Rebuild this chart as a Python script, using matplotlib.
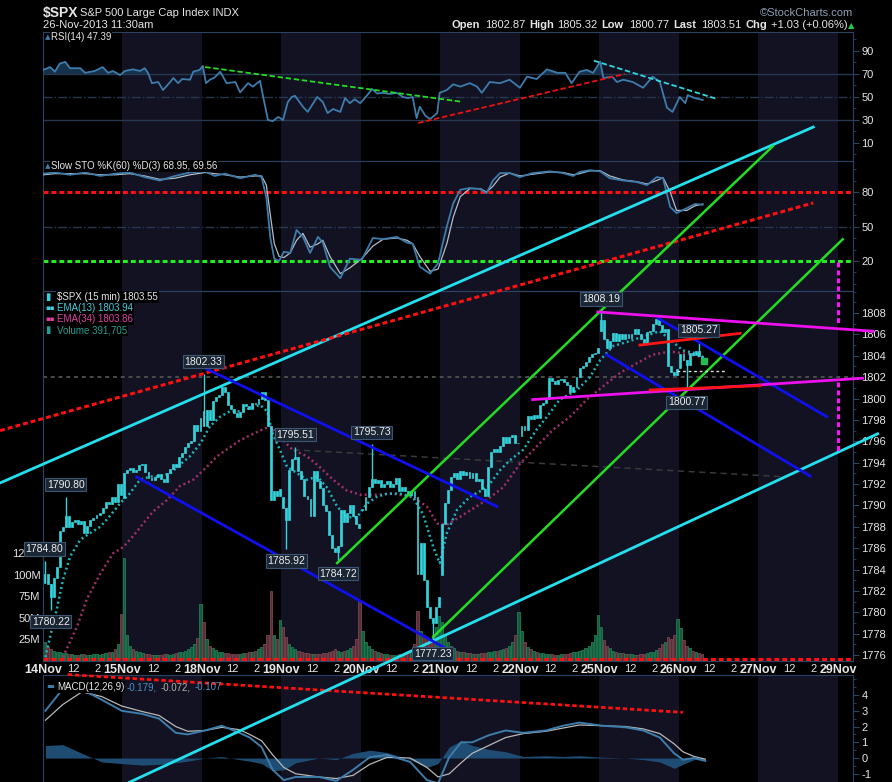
"""
Recria o grafico StockCharts do $SPX (15 min) com RSI, Slow STO e MACD.
Gera out.png (892x782).
"""
import matplotlib
matplotlib.use('Agg')
import matplotlib.pyplot as plt
import numpy as np

W_PX, H_PX = 892, 782
X0_PX, X1_PX = 43, 853

BG = '#000000'
BAND = '#121222'
EDGE = '#2d4263'
GRID = '#263850'
TXT = '#e6e6e6'
CYAN = '#35d4dc'
STEEL = '#3d7cab'
FONT = ['Liberation Sans', 'DejaVu Sans']
NARROW = ['Liberation Sans Narrow', 'Liberation Sans', 'DejaVu Sans']

# ---- eixo x: uma unidade = um pregao (26 barras de 15 min) ----
day_labels = ['14Nov', '15Nov', '18Nov', '19Nov', '20Nov', '21Nov',
              '22Nov', '25Nov', '26Nov', '27Nov', '29Nov']
shaded_days = [1, 3, 5, 7, 9]
bars_per_day = 26
x_max = 10.19

# ---- $SPX 15 min: abertura do dia e fechamentos de cada barra ----
day_open = [1782.75, 1790.66, 1798.82, 1790.79, 1789.59, 1783.52, 1796.5, 1806.33, 1802.87]
close_14 = [1783.6, 1782.6, 1781.4, 1783.2, 1784.2, 1787.6, 1788.0, 1789.0, 1788.0, 1788.4,
            1788.6, 1788.3, 1788.5, 1787.4, 1788.1, 1788.6, 1788.8, 1789.1, 1789.3, 1789.8,
            1790.3, 1790.1, 1790.8, 1790.3, 1792.0, 1791.0]
close_15 = [1793.0, 1793.3, 1793.5, 1793.1, 1793.3, 1793.8, 1793.9, 1793.1, 1792.6, 1792.4,
            1792.7, 1792.9, 1792.5, 1792.2, 1793.0, 1793.4, 1793.9, 1793.6, 1794.5, 1794.9,
            1795.5, 1795.8, 1796.0, 1797.5, 1797.0, 1798.2]
close_18 = [1797.4, 1798.9, 1798.0, 1799.8, 1800.1, 1800.3, 1801.1, 1800.6, 1799.4, 1799.0,
            1798.6, 1798.3, 1798.7, 1799.5, 1799.3, 1799.0, 1799.6, 1799.5, 1800.0, 1800.6,
            1799.9, 1797.4, 1790.5, 1791.3, 1790.9, 1791.5]
close_19 = [1789.8, 1788.6, 1793.3, 1794.3, 1794.5, 1793.2, 1792.5, 1790.9, 1790.6, 1789.0,
            1793.2, 1792.3, 1791.6, 1790.0, 1789.5, 1787.2, 1786.0, 1785.6, 1786.2, 1789.6,
            1788.4, 1789.3, 1790.0, 1789.0, 1788.3, 1787.9]
close_20 = [1789.6, 1790.8, 1791.7, 1792.5, 1792.1, 1792.4, 1791.7, 1792.0, 1792.3, 1791.7,
            1792.0, 1792.6, 1791.3, 1791.7, 1791.3, 1791.0, 1791.3, 1790.8, 1783.6, 1786.5,
            1783.0, 1780.5, 1779.5, 1779.0, 1780.5, 1781.4]
close_21 = [1788.3, 1790.2, 1791.4, 1792.7, 1793.0, 1792.5, 1793.2, 1792.8, 1793.1, 1792.6,
            1793.0, 1792.3, 1792.5, 1791.5, 1790.9, 1793.6, 1795.0, 1795.3, 1795.0, 1795.6,
            1796.4, 1795.8, 1796.4, 1796.6, 1795.8, 1795.85]
close_22 = [1797.4, 1797.1, 1798.4, 1798.1, 1798.5, 1798.2, 1799.4, 1799.6, 1800.0, 1801.9,
            1801.6, 1801.4, 1801.7, 1801.8, 1801.5, 1801.3, 1800.6, 1801.1, 1802.0, 1802.9,
            1803.0, 1803.4, 1803.9, 1804.2, 1804.3, 1804.76]
close_25 = [1807.3, 1805.6, 1804.7, 1805.4, 1806.1, 1805.4, 1806.0, 1805.6, 1806.0, 1805.7,
            1806.0, 1806.5, 1806.0, 1805.6, 1805.2, 1806.2, 1806.3, 1807.0, 1807.4, 1806.9,
            1806.2, 1806.5, 1803.0, 1802.5, 1802.2, 1802.75]
close_26 = [1804.2, 1803.6, 1803.1, 1804.3, 1804.1, 1804.4, 1804.0, 1803.51]
closes = (close_14 + close_15 + close_18 + close_19 + close_20 + close_21
          + close_22 + close_25 + close_26)

# volume (milhoes) por barra
vol_14 = [22, 16, 14, 12, 11, 10, 9, 9, 8, 8, 7, 7, 8, 8, 7, 7, 8, 8, 7, 8, 9, 10, 11, 14, 20, 55]
vol_15 = [120, 30, 18, 14, 12, 10, 9, 8, 8, 7, 7, 7, 7, 8, 8, 7, 8, 9, 10, 11, 12, 14, 16, 20, 27, 66]
vol_18 = [45, 25, 18, 15, 13, 11, 10, 9, 9, 8, 8, 8, 8, 9, 9, 10, 10, 12, 14, 16, 20, 30, 81, 30, 25, 48]
vol_19 = [40, 28, 20, 16, 14, 12, 10, 9, 9, 8, 8, 8, 8, 9, 9, 10, 12, 14, 12, 11, 12, 13, 15, 18, 25, 70]
vol_20 = [35, 22, 18, 14, 12, 10, 9, 8, 8, 7, 7, 7, 8, 8, 8, 9, 10, 20, 58, 35, 30, 28, 25, 30, 40, 52]
vol_21 = [45, 30, 22, 18, 15, 12, 11, 10, 9, 9, 8, 8, 8, 9, 9, 10, 11, 12, 12, 13, 14, 15, 18, 22, 30, 57]
vol_22 = [35, 22, 16, 14, 12, 10, 9, 9, 8, 8, 8, 7, 7, 8, 8, 8, 9, 10, 11, 12, 13, 15, 18, 22, 30, 53]
vol_25 = [40, 24, 18, 15, 12, 10, 9, 9, 8, 8, 8, 7, 7, 8, 8, 9, 10, 11, 13, 15, 20, 22, 28, 25, 30, 49]
vol_26 = [38, 24, 18, 15, 12, 10, 9, 8]
volume = vol_14 + vol_15 + vol_18 + vol_19 + vol_20 + vol_21 + vol_22 + vol_25 + vol_26

# maximas/minimas anotadas (indice da barra, valor)
wick_bar = [0, 2, 7, 52, 79, 82, 96, 107, 127, 182, 210, 214]
wick_val = [1784.80, 1780.22, 1790.80, 1802.33, 1785.92, 1795.51, 1784.72,
            1795.73, 1777.23, 1808.19, 1800.77, 1805.27]

# medias moveis (pregao, preco)
ema13_t = [0.03, 0.09, 0.18, 0.25, 0.34, 0.47, 0.59, 0.72, 0.84, 0.97, 1.09, 1.22, 1.35, 1.47,
           1.60, 1.72, 1.85, 1.98, 2.10, 2.23, 2.35, 2.48, 2.60, 2.73, 2.82, 2.89, 2.98, 3.07,
           3.20, 3.32, 3.45, 3.57, 3.70, 3.82, 3.95, 4.08, 4.20, 4.33, 4.49, 4.65, 4.78, 4.91,
           4.99, 5.08, 5.21, 5.37, 5.59, 5.75, 5.87, 6.04, 6.21, 6.34, 6.50, 6.72, 6.88, 7.01,
           7.17, 7.35, 7.55, 7.76, 7.89, 8.05, 8.23, 8.30]
ema13_v = [1775.8, 1777.7, 1780.5, 1783.0, 1785.2, 1786.8, 1787.4, 1788.0, 1789.0, 1790.2,
           1791.1, 1792.4, 1792.7, 1792.7, 1793.0, 1793.8, 1794.6, 1795.8, 1797.4, 1798.3,
           1798.8, 1798.8, 1799.1, 1799.4, 1798.8, 1796.7, 1795.2, 1793.6, 1793.0, 1792.4,
           1792.7, 1791.7, 1789.9, 1788.9, 1788.9, 1790.2, 1790.8, 1791.1, 1791.1, 1790.8,
           1789.2, 1786.1, 1784.6, 1787.4, 1789.6, 1790.8, 1791.7, 1793.3, 1794.2, 1795.2,
           1797.1, 1798.3, 1799.9, 1800.8, 1802.0, 1803.6, 1804.9, 1805.3, 1805.8, 1806.3,
           1805.5, 1804.5, 1804.2, 1803.94]
ema34_t = [0.25, 0.43, 0.55, 0.72, 0.88, 1.01, 1.13, 1.26, 1.38, 1.56, 1.72, 1.89, 2.06, 2.19,
           2.48, 2.73, 2.86, 3.02, 3.14, 3.32, 3.48, 3.65, 3.82, 3.99, 4.20, 4.40, 4.65, 4.83,
           4.96, 5.08, 5.24, 5.41, 5.58, 5.79, 6.00, 6.21, 6.42, 6.63, 6.84, 7.04, 7.26, 7.47,
           7.67, 7.89, 8.10, 8.30]
ema34_v = [1775.8, 1778.7, 1781.2, 1783.6, 1785.5, 1786.1, 1787.1, 1788.3, 1789.4, 1790.5,
           1791.8, 1792.4, 1793.6, 1794.6, 1796.1, 1797.0, 1797.4, 1796.1, 1795.2, 1794.6,
           1793.6, 1792.4, 1791.4, 1791.0, 1791.0, 1791.1, 1790.8, 1789.9, 1788.3, 1788.2,
           1788.9, 1789.7, 1790.5, 1791.7, 1793.9, 1795.5, 1797.1, 1798.3, 1799.9, 1801.1,
           1802.4, 1803.3, 1804.1, 1804.4, 1804.2, 1803.86]

# RSI(14)
rsi_t = [0.00, 0.09, 0.15, 0.21, 0.28, 0.34, 0.47, 0.53, 0.65, 0.75, 0.82, 0.88, 0.97, 1.03,
         1.13, 1.22, 1.28, 1.32, 1.37, 1.45, 1.51, 1.60, 1.64, 1.70, 1.75, 1.85, 1.89, 1.97,
         2.01, 2.05, 2.10, 2.16, 2.23, 2.31, 2.42, 2.48, 2.58, 2.64, 2.73, 2.77, 2.83, 2.89,
         2.96, 3.02, 3.08, 3.13, 3.17, 3.27, 3.33, 3.45, 3.52, 3.58, 3.65, 3.74, 3.80, 3.86,
         3.92, 3.99, 4.08, 4.14, 4.20, 4.28, 4.36, 4.45, 4.53, 4.59, 4.65, 4.70, 4.74, 4.81,
         4.87, 4.96, 4.99, 5.08, 5.16, 5.25, 5.37, 5.46, 5.52, 5.62, 5.75, 5.87, 6.00, 6.09,
         6.21, 6.34, 6.47, 6.57, 6.65, 6.75, 6.84, 6.92, 7.01, 7.05, 7.16, 7.22, 7.30, 7.42,
         7.55, 7.67, 7.76, 7.85, 7.92, 8.01, 8.08, 8.11, 8.20, 8.30]
rsi_v = [73.5, 76, 72, 79, 80.5, 75, 75, 71, 72.6, 76, 71, 72.6, 69, 72.6, 74, 72.6, 75, 71,
         62, 63, 56, 63, 66.5, 62, 65.6, 65, 72, 73.5, 77, 62, 65, 67, 72, 62, 63, 54, 62, 59,
         64, 50, 30, 29, 32.6, 30, 45.6, 50, 51, 41.5, 37, 50, 45.6, 36, 39.5, 37, 49, 44.6,
         48, 44.6, 51.6, 57, 53, 53.6, 52.6, 53.6, 50, 49, 50, 31.6, 41.5, 33.7, 30.8, 36,
         53.6, 56, 61, 59, 62, 59, 53.6, 63, 62, 65, 58, 67.7, 65.6, 74, 71, 71, 62, 72, 73.5,
         71, 80.7, 66.5, 67.7, 63, 65, 63, 58, 67.7, 63, 40.6, 37, 50, 44.6, 51.6, 49, 47.39]

# Slow STO %K(60) %D(3)
sto_t = [0.00, 0.15, 0.34, 0.53, 0.72, 0.91, 1.09, 1.28, 1.47, 1.66, 1.85, 2.04, 2.16, 2.29,
         2.48, 2.67, 2.75, 2.81, 2.86, 2.91, 2.97, 3.03, 3.11, 3.19, 3.27, 3.36, 3.46, 3.52,
         3.61, 3.74, 3.86, 4.01, 4.15, 4.28, 4.45, 4.58, 4.65, 4.74, 4.87, 4.97, 5.08, 5.16,
         5.25, 5.37, 5.50, 5.58, 5.66, 5.75, 5.87, 6.00, 6.16, 6.38, 6.54, 6.67, 6.75, 6.88,
         7.01, 7.13, 7.30, 7.47, 7.60, 7.72, 7.80, 7.89, 7.97, 8.10, 8.20, 8.30]
sto_k = [96, 97, 95, 97, 94, 96, 97, 93, 90, 94, 97, 98, 94, 96, 92, 95, 93, 75, 40, 22, 20,
         28, 27, 47, 41, 27, 41, 36, 15, 5, 22, 21, 40, 39, 41, 36, 35, 15, 9, 18, 50, 70, 82,
         83.5, 82.6, 79, 90, 96.5, 96.5, 93, 96.5, 98, 96.5, 94, 97.4, 99, 98, 92, 90, 88.7,
         86, 93, 92, 67, 61.7, 66, 69.6, 68.95]
sto_d = [95, 96, 96, 96, 95, 95, 96, 94, 91, 92, 95, 97, 96, 95, 93, 94, 94, 86, 60, 35, 24,
         23, 27, 38, 44, 32, 35, 38, 24, 9, 14, 22, 33, 39, 40, 38, 35, 24, 11, 13, 35, 58, 76,
         83, 83, 80, 85, 93, 96.5, 94, 95.5, 97.5, 97, 95, 96, 98.5, 98.5, 94, 90.5, 89, 87,
         90, 92.5, 80, 64, 64, 68, 69.56]

# MACD(12,26,9)
macd_t = [0.03, 0.25, 0.49, 0.74, 0.99, 1.25, 1.46, 1.67, 1.82, 2.04, 2.25, 2.47, 2.60, 2.75,
          2.89, 3.03, 3.18, 3.47, 3.69, 3.90, 4.11, 4.33, 4.62, 4.83, 4.97, 5.11, 5.26, 5.40,
          5.61, 5.82, 6.04, 6.33, 6.54, 6.75, 7.04, 7.33, 7.55, 7.76, 7.94, 8.05, 8.19, 8.33]
macd_v = [3.0, 4.4, 4.35, 3.7, 3.0, 2.8, 2.5, 1.6, 1.5, 1.75, 2.05, 1.6, 1.3, 0.7, -0.75,
          -1.4, -1.2, -1.2, -1.45, -0.75, 0.05, 0.2, -0.25, -1.4, -1.6, 0.05, 1.0, 1.0, 1.45,
          1.75, 1.6, 1.75, 2.05, 2.25, 2.05, 1.95, 1.75, 1.3, 0.3, -0.1, 0.0, -0.18]
macd_sig = [2.4, 3.4, 4.2, 3.9, 3.3, 2.95, 2.7, 2.0, 1.7, 1.75, 1.95, 1.8, 1.5, 1.1, 0.2,
            -0.6, -1.0, -1.2, -1.3, -1.1, -0.4, 0.05, 0.0, -0.6, -1.2, -1.0, -0.3, 0.3, 0.8,
            1.3, 1.55, 1.7, 1.9, 2.1, 2.05, 2.0, 1.85, 1.55, 0.9, 0.4, 0.1, -0.07]
macd_hist = [0.8, 0.85, 0.3, -0.25, -0.35, -0.45, -0.4, -0.3, -0.2, 0.0, 0.1, -0.1, -0.2,
             -0.35, -0.8, -0.75, -0.3, 0.0, -0.1, 0.3, 0.5, 0.35, -0.1, -0.6, -0.35, 0.7, 1.1,
             0.8, 0.55, 0.4, 0.1, 0.15, 0.1, 0.15, 0.05, 0.0, -0.1, -0.25, -0.65, -0.4, -0.1,
             -0.11]

# linhas de tendencia desenhadas no grafico: ([pregao, pregao], [preco, preco])
cyan_lines = [([-0.54, 9.69], [1792.1, 1825.4]), ([1.09, 10.50], [1764.1, 1796.7])]
red_dash_lines = [([-0.54, 9.69], [1797.0, 1818.3])]
green_lines = [([3.70, 9.18], [1784.6, 1823.6]), ([4.91, 10.06], [1777.7, 1814.9])]
blue_lines = [([1.82, 5.71], [1803.6, 1789.9]), ([1.18, 5.06], [1792.65, 1776.65]),
              ([7.74, 9.86], [1807.5, 1798.3]), ([7.09, 9.65], [1804.1, 1792.75])]
magenta_lines = [([6.98, 10.44], [1808.1, 1806.3]), ([6.16, 10.31], [1799.9, 1801.9])]
red_lines = [([7.51, 8.77], [1805.0, 1806.1]), ([7.64, 9.02], [1800.8, 1801.2])]
magenta_vert = [([10.0, 10.0], [1812.8, 1807.0]), ([10.0, 10.0], [1801.5, 1795.1])]
gray_slope = ([3.15, 9.27], [1795.2, 1792.7])
white_dash = ([7.98, 8.60], [1802.6, 1802.6])
prev_close_level = 1802.0
bottom_red_level = 1775.6

rsi_green = ([2.04, 5.25], [76, 46])
rsi_red = ([4.72, 7.32], [27.4, 70])
rsi_cyan = ([6.93, 8.49], [81.6, 48])
macd_red = ([0.31, 8.05], [5.3, 2.9])


def session_x(i):
    return i // bars_per_day + (i % bars_per_day + 0.5) / bars_per_day


def put(fig, px, py, s, **kw):
    kw.setdefault('va', 'center')
    kw.setdefault('color', TXT)
    kw.setdefault('fontsize', 7)
    return fig.text(px / W_PX, 1 - py / H_PX, s, zorder=20, **kw)


def panel(fig, top, bottom, z):
    ax = fig.add_axes([X0_PX / W_PX, 1 - bottom / H_PX,
                       (X1_PX - X0_PX) / W_PX, (bottom - top) / H_PX])
    ax.set_zorder(z)
    ax.set_facecolor(BG)
    ax.set_xlim(0, x_max)
    for d in shaded_days:
        ax.axvspan(d, d + 1, color=BAND, lw=0, zorder=0)
    for s in ax.spines.values():
        s.set_color(EDGE)
    ax.tick_params(axis='x', length=0, labelbottom=False)
    right_axis(ax)
    return ax


def right_axis(ax):
    ax.yaxis.tick_right()
    ax.tick_params(axis='y', which='both', colors=EDGE, labelcolor=TXT,
                   labelsize=8, direction='out', labelfontfamily=NARROW)
    ax.tick_params(axis='y', which='major', length=4, pad=2)
    ax.tick_params(axis='y', which='minor', length=2)


def dashed(ax, xs, ys, color, lw=2.0, dash=(1.6, 1.0), clip=True, z=4):
    ax.plot(xs, ys, color=color, lw=lw, dashes=dash, clip_on=clip, zorder=z)


def main():
    plt.rcParams.update({'font.family': FONT, 'axes.unicode_minus': False})
    fig = plt.figure(figsize=(W_PX / 100, H_PX / 100), dpi=100, facecolor=BG)

    # ---------------- RSI ----------------
    ax_rsi = panel(fig, 32, 161, 1)
    ax_rsi.set_ylim(-5.7, 106.5)
    ax_rsi.set_yticks([10, 30, 50, 70, 90])
    ax_rsi.set_yticks(range(0, 101, 10), minor=True)
    for lv, ls in [(70, '-'), (30, '-'), (50, '-.')]:
        ax_rsi.axhline(lv, color=GRID, lw=1, ls=ls, zorder=1)
    rt, rv = np.array(rsi_t), np.array(rsi_v)
    ax_rsi.fill_between(rt, rv, 70, where=rv >= 70, interpolate=True,
                        color='#16324a', lw=0, zorder=2)
    ax_rsi.plot(rt, rv, color=STEEL, lw=1.3, zorder=3)
    dashed(ax_rsi, *rsi_green, '#22dd22', lw=1.3, dash=(3, 1.5))
    dashed(ax_rsi, *rsi_red, '#ee1111', lw=1.3, dash=(3, 1.5))
    dashed(ax_rsi, *rsi_cyan, '#30d8e0', lw=1.3, dash=(3, 1.5))

    # ---------------- Slow STO ----------------
    ax_sto = panel(fig, 161, 291, 1)
    ax_sto.set_ylim(-6.1, 107)
    ax_sto.set_yticks([20, 50, 80])
    ax_sto.set_yticks(range(0, 101, 10), minor=True)
    ax_sto.axhline(50, color=GRID, lw=1, ls='-.', zorder=1)
    ax_sto.axhline(80, color='#ff1010', lw=2.2, dashes=(1.6, 1.0), zorder=2)
    ax_sto.axhline(20, color='#22ee22', lw=2.2, dashes=(1.6, 1.0), zorder=2)
    ax_sto.plot(sto_t, sto_d, color='#b4bcc6', lw=0.9, zorder=3)
    ax_sto.plot(sto_t, sto_k, color=STEEL, lw=1.3, zorder=3)

    # ---------------- precos + volume ----------------
    ax_vol = panel(fig, 291, 661, 2)
    ax_vol.yaxis.tick_left()
    ax_vol.set_ylim(0, 430)
    ax_vol.set_yticks([25, 50, 75, 100, 125])
    ax_vol.set_yticklabels(['25M', '50M', '75M', '100M', '125M'])
    ax_vol.tick_params(axis='y', length=0, pad=2, labelsize=8, labelcolor=TXT)
    ax_vol.tick_params(axis='x', labelbottom=True, pad=2, labelcolor=TXT, labelsize=8,
                       labelfontfamily=NARROW)

    ax_px = ax_vol.twinx()
    ax_px.set_zorder(3)
    ax_px.patch.set_visible(False)
    for s in ax_px.spines.values():
        s.set_color(EDGE)
    right_axis(ax_px)
    ax_px.set_ylim(1775.44, 1810.06)
    ax_px.set_yticks(range(1776, 1809, 2))
    ax_px.set_yticks(range(1776, 1811), minor=True)
    ax_px.set_xlim(0, x_max)

    n = len(closes)
    xs = np.array([session_x(i) for i in range(n)])
    c = np.array(closes)
    o = np.array([day_open[i // bars_per_day] if i % bars_per_day == 0 else closes[i - 1]
                  for i in range(n)])

    # volume
    up = c >= o
    vcol = np.where(up, '#145c3c', '#5a2f38')
    vedge = np.where(up, '#1f7d52', '#7a4450')
    ax_vol.bar(xs, volume, width=0.8 / bars_per_day, color=vcol, edgecolor=vedge,
               lw=0.6, zorder=2)

    # ticks do eixo x
    pos, labs = [], []
    for d, name in enumerate(day_labels):
        pos += [d, d + 2.5 / 6.5, d + 4.5 / 6.5]
        labs += [name, '12', '2']
    keep = [k for k, p in enumerate(pos) if p <= x_max]
    ax_vol.set_xticks([pos[k] for k in keep])
    ax_vol.set_xticklabels([labs[k] for k in keep])
    for t in ax_vol.get_xticklabels():
        if t.get_text() in day_labels:
            t.set_fontweight('bold')
            t.set_fontsize(9)

    # linhas horizontais auxiliares
    ax_px.axhline(prev_close_level, color='#4c4c4c', lw=1.4, dashes=(2, 2), zorder=1)
    ax_px.axhline(bottom_red_level, color='#ff1010', lw=2.2, dashes=(1.6, 1.0), zorder=2)
    ax_px.plot(*gray_slope, color='#3a3a3a', lw=1.1, dashes=(4, 3), zorder=1)

    # medias
    ax_px.plot(ema34_t, ema34_v, color='#a0306a', lw=1.8, dashes=(0.8, 1.2), zorder=2)
    ax_px.plot(ema13_t, ema13_v, color='#1fb4bc', lw=1.8, dashes=(0.8, 1.2), zorder=2)

    # candles
    lo_body = np.minimum(o, c)
    h_body = np.maximum(np.abs(c - o), 0.08)
    ax_px.bar(xs, h_body, bottom=lo_body, width=0.62 / bars_per_day, color=CYAN,
              edgecolor=CYAN, lw=0.5, zorder=3)
    hi_body = lo_body + h_body
    for i, v in zip(wick_bar, wick_val):
        top = max(v, hi_body[i])
        bot = min(v, lo_body[i])
        ax_px.vlines(xs[i], bot, top, color=CYAN, lw=1, zorder=3)

    # linhas de tendencia (passam por cima dos outros paineis)
    for lx, ly in cyan_lines:
        ax_px.plot(lx, ly, color='#22e0ee', lw=2.0, clip_on=False, zorder=4)
    for lx, ly in red_dash_lines:
        dashed(ax_px, lx, ly, '#ff1010', lw=2.2, clip=False)
    for lx, ly in green_lines:
        ax_px.plot(lx, ly, color='#22dd22', lw=1.8, clip_on=False, zorder=4)
    for lx, ly in blue_lines:
        ax_px.plot(lx, ly, color='#1010ee', lw=2.0, clip_on=False, zorder=4)
    for lx, ly in magenta_lines:
        ax_px.plot(lx, ly, color='#ee10ee', lw=2.0, clip_on=False, zorder=4)
    for lx, ly in red_lines:
        ax_px.plot(lx, ly, color='#ff1515', lw=2.0, clip_on=False, zorder=4)
    for lx, ly in magenta_vert:
        dashed(ax_px, lx, ly, '#ff10ff', lw=2.2, clip=False)
    ax_px.plot(*white_dash, color='#e0e0e0', lw=1.0, dashes=(2, 2), zorder=4)

    # marcador do ultimo preco
    ax_px.plot(xs[-1] + 0.03, closes[-1], 's', ms=4, color='#22bb55', zorder=5)

    # rotulos das maximas/minimas
    for i, v in zip(wick_bar, wick_val):
        high = v >= hi_body[i]
        ax_px.annotate(f'{v:.2f}', xy=(xs[i], v), xytext=(0, 5 if high else -5),
                       textcoords='offset points', ha='center',
                       va='bottom' if high else 'top', fontsize=7.5, color='#f0f0f0',
                       annotation_clip=False, zorder=6,
                       bbox=dict(boxstyle='square,pad=0.15', fc='#1a2634', ec='#3d5570', lw=0.8))

    # ---------------- MACD ----------------
    ax_macd = panel(fig, 675, 782, 1)
    ax_macd.spines['bottom'].set_visible(False)
    ax_macd.set_ylim(-1.52, 5.27)
    ax_macd.set_yticks([-1, 0, 1, 2, 3, 4])
    ax_macd.set_yticks(np.arange(-1, 5.01, 0.5), minor=True)
    ax_macd.fill_between(macd_t, macd_hist, 0, color='#1f4c72', lw=0, zorder=2)
    ax_macd.plot(macd_t, macd_sig, color='#b8b8b8', lw=0.9, zorder=3)
    ax_macd.plot(macd_t, macd_v, color=STEEL, lw=1.4, zorder=3)
    dashed(ax_macd, *macd_red, '#ff1010', lw=2.0, clip=False)

    # ---------------- cabecalho e legendas ----------------
    put(fig, 43, 13, r'\$SPX', fontsize=10, fontweight='bold', ha='left',
        family=NARROW)
    put(fig, 80, 13, 'S&P 500 Large Cap Index INDX', fontsize=8, ha='left')
    put(fig, 43, 25, '26-Nov-2013 11:30am', fontsize=8, ha='left')
    put(fig, 853, 13, '©StockCharts.com', fontsize=8, ha='right', color='#8fa0b5')
    quote = [(452, 'Open', True), (485, '1802.87', False), (529, 'High', True),
             (557, '1805.32', False), (601, 'Low', True), (629, '1800.77', False),
             (673, 'Last', True), (701, '1803.51', False), (745, 'Chg', True),
             (771, '+1.03 (+0.06%)', False)]
    for px, s, bold in quote:
        put(fig, px, 25, s, fontsize=8, ha='left', fontweight='bold' if bold else 'normal')
    put(fig, 848, 26, '▲', fontsize=6, ha='left', color='#22cc44',
        family=['DejaVu Sans'])

    box = dict(fc='black', ec='none', pad=0.6)
    put(fig, 45, 37, '▴', fontsize=8, ha='left', color=STEEL, family=['DejaVu Sans'])
    put(fig, 51, 37, 'RSI(14) 47.39', ha='left', bbox=box)
    put(fig, 45, 166, '▴', fontsize=8, ha='left', color=STEEL, family=['DejaVu Sans'])
    put(fig, 51, 166, 'Slow STO %K(60) %D(3) 68.95, 69.56', ha='left', bbox=box)

    put(fig, 45, 297, '▮', fontsize=7, ha='left', color=CYAN, family=['DejaVu Sans'])
    put(fig, 57, 297, r'\$SPX (15 min) 1803.55', fontsize=7, ha='left', bbox=box)
    put(fig, 45, 308, '▪▪', fontsize=5, ha='left', color='#40d0e0', family=['DejaVu Sans'])
    put(fig, 57, 308, 'EMA(13) 1803.94', fontsize=7, ha='left', color='#40d0e0', bbox=box)
    put(fig, 45, 319, '▪▪', fontsize=5, ha='left', color='#e040a0', family=['DejaVu Sans'])
    put(fig, 57, 319, 'EMA(34) 1803.86', fontsize=7, ha='left', color='#e040a0', bbox=box)
    put(fig, 45, 330, '▮', fontsize=7, ha='left', color='#20a090', family=['DejaVu Sans'])
    put(fig, 57, 330, 'Volume 391,705', fontsize=7, ha='left', color='#20a090', bbox=box)

    put(fig, 46, 687, '▬', fontsize=6, ha='left', color=STEEL, family=['DejaVu Sans'])
    put(fig, 57, 687, 'MACD(12,26,9)', fontsize=7, ha='left', bbox=box)
    put(fig, 127, 687, '-0.179,', fontsize=7, ha='left', color='#4a90c8')
    put(fig, 161, 687, '-0.072,', fontsize=7, ha='left', color='#b0b0b0')
    put(fig, 195, 687, '-0.107', fontsize=7, ha='left', color='#4a90c8')

    fig.savefig('out.png', dpi=100, facecolor=BG)
    plt.close(fig)


if __name__ == '__main__':
    main()
